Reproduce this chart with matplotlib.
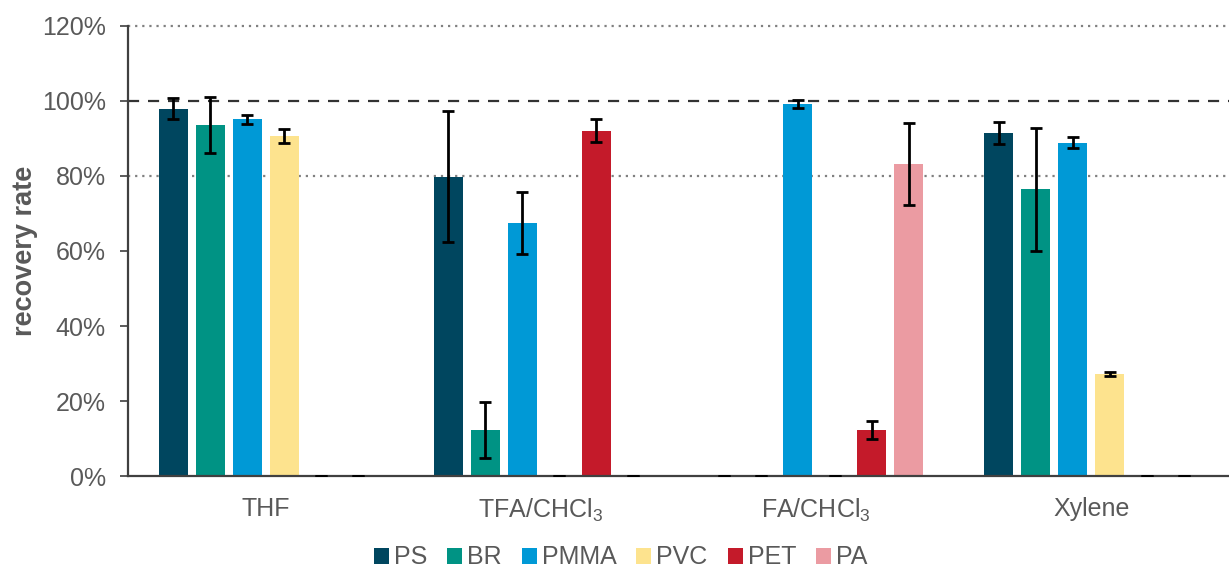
import numpy as np
import matplotlib
matplotlib.use("Agg")
import matplotlib.pyplot as plt
from matplotlib.patches import Patch
from matplotlib.ticker import PercentFormatter

plt.rcParams['font.family'] = ['Liberation Sans', 'DejaVu Sans']
plt.rcParams['mathtext.fontset'] = 'custom'
plt.rcParams['mathtext.rm'] = 'Liberation Sans'
plt.rcParams['mathtext.it'] = 'Liberation Sans'

# solvent systems and polymers
solvents = ['THF', 'TFA/CHCl$_3$', 'FA/CHCl$_3$', 'Xylene']
polymers = ['PS', 'BR', 'PMMA', 'PVC', 'PET', 'PA']
colors = ['#00465f', '#009384', '#0099d6', '#fde38e', '#c41a2a', '#eb9ba2']

# recovery rate (%) per polymer, one value per solvent
ps = [97.9, 79.8, 0.0, 91.4]
br = [93.6, 12.3, 0.0, 76.4]
pmma = [95.1, 67.4, 99.1, 88.9]
pvc = [90.7, 0.0, 0.0, 27.2]
pet = [0.0, 92.1, 12.4, 0.0]
pa = [0.0, 0.0, 83.2, 0.0]

# standard deviations (%)
ps_err = [2.8, 17.4, 0.0, 3.0]
br_err = [7.5, 7.4, 0.0, 16.5]
pmma_err = [1.2, 8.3, 1.1, 1.5]
pvc_err = [1.8, 0.0, 0.0, 0.5]
pet_err = [0.0, 3.1, 2.4, 0.0]
pa_err = [0.0, 0.0, 11.0, 0.0]

values = [ps, br, pmma, pvc, pet, pa]
errors = [ps_err, br_err, pmma_err, pvc_err, pet_err, pa_err]

fig = plt.figure(figsize=(12.29, 5.70), dpi=100)
ax = fig.add_axes([0.1042, 0.1649, 0.8958, 0.7895])

x = np.arange(len(solvents))
slot = 0.1345
width = 0.105
for i, (vals, errs) in enumerate(zip(values, errors)):
    pos = x + (i - 2.5) * slot
    ax.bar(pos, vals, width=width, color=colors[i], zorder=2)
    ax.errorbar(pos, vals, yerr=errs, fmt='none', ecolor='black',
                elinewidth=2, capsize=4.5, capthick=2, zorder=3)

# reference lines
ax.axhline(100, color='#333333', linestyle=(0, (5, 4)), linewidth=1.6, zorder=1)
for yv in (80, 120):
    ax.axhline(yv, color='#808080', linestyle=(0, (1, 2.2)), linewidth=1.6,
               zorder=1, clip_on=False)

ax.set_xlim(-0.5, 3.5)
ax.set_ylim(0, 120)
ax.set_yticks(np.arange(0, 121, 20))
ax.yaxis.set_major_formatter(PercentFormatter(decimals=0))
ax.set_xticks(x)
ax.set_xticklabels(solvents)

ax.tick_params(axis='y', direction='out', length=6, width=1.2, colors='#404040',
               labelsize=18, labelcolor='#595959', pad=10)
ax.tick_params(axis='x', length=0, labelsize=18, labelcolor='#595959', pad=15)

for side in ('top', 'right'):
    ax.spines[side].set_visible(False)
for side in ('left', 'bottom'):
    ax.spines[side].set_color('#404040')
    ax.spines[side].set_linewidth(1.6)

ax.set_ylabel('recovery rate', fontsize=19.5, fontweight='bold', color='#595959',
              labelpad=3)

handles = [Patch(facecolor=c, label=p) for c, p in zip(colors, polymers)]
fig.legend(handles=handles, loc='center', bbox_to_anchor=(0.505, 0.022), ncol=6,
           frameon=False, fontsize=18, handlelength=0.6, handleheight=0.6,
           handletextpad=0.2, columnspacing=0.8, labelcolor='#595959')

fig.savefig('out.png', dpi=100)
